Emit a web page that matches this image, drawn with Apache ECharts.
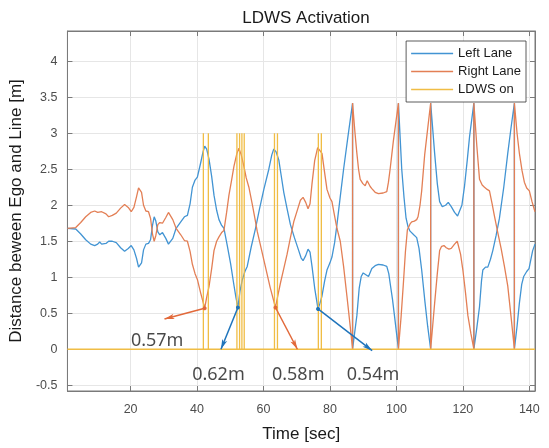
<!DOCTYPE html>
<html>
<head>
<meta charset="utf-8">
<script src="https://cdn.jsdelivr.net/npm/echarts@6/dist/echarts.min.js"></script>
<style>
  html, body { margin: 0; padding: 0; background: #fff; }
  #chart { width: 549px; height: 448px; }
</style>
</head>
<body>
<div id="chart"></div>
<script>
// Left lane distance (blue)
const timeLeft = [1.0, 3.5, 5.0, 6.5, 8.0, 9.2, 10.1, 10.7, 11.3, 11.9, 12.6, 13.4, 14.5, 15.7, 17.0, 18.2, 19.3, 20.2, 21.0, 21.8,
  22.4, 22.8, 23.3, 23.9, 24.6, 25.4, 26.0, 26.6, 27.1, 27.6, 28.2, 28.8, 29.6, 30.6, 31.4, 31.9, 32.7, 33.7, 35.1, 36.2,
  37.1, 37.9, 38.6, 39.4, 40.1, 41.1, 41.8, 42.3, 42.9, 43.6, 44.4, 45.1, 45.9, 46.6, 47.4, 48.1, 49.1, 50.1, 51.0, 51.7,
  52.3, 52.9, 53.6, 54.4, 55.1, 56.3, 57.6, 58.8, 60.1, 61.6, 62.5, 63.1, 63.8, 64.6, 65.3, 66.1, 67.1, 68.1, 69.3, 70.6,
  71.3, 71.9, 72.7, 73.4, 74.0, 74.6, 75.4, 76.4, 77.0, 77.6, 78.4, 79.1, 80.0, 80.6, 81.4, 82.1, 83.1, 84.1, 85.4, 86.8,
  86.8, 88.1, 88.8, 89.4, 90.0, 90.6, 91.6, 92.6, 93.6, 94.6, 96.0, 97.1, 97.7, 98.1, 98.8, 99.4, 100.6, 100.6, 101.6, 102.3,
  102.9, 103.5, 104.1, 105.2, 106.1, 106.8, 107.6, 108.6, 109.4, 110.3, 110.3, 111.5, 112.3, 113.0, 113.8, 114.8, 115.6, 116.5, 117.5, 118.4,
  119.0, 119.7, 120.5, 121.3, 122.0, 123.3, 123.3, 124.2, 125.0, 125.6, 126.0, 126.8, 127.5, 128.3, 129.0, 130.0, 131.0, 132.3, 133.5, 134.5,
  135.5, 135.5, 136.3, 137.0, 137.7, 138.3, 139.2, 139.9, 140.6, 141.0, 141.7];
const leftLane = [1.68, 1.67, 1.60, 1.52, 1.46, 1.44, 1.46, 1.49, 1.46, 1.44, 1.47, 1.50, 1.50, 1.48, 1.41, 1.36, 1.40, 1.44, 1.38, 1.26,
  1.14, 1.12, 1.20, 1.38, 1.46, 1.47, 1.52, 1.72, 1.84, 1.78, 1.63, 1.59, 1.62, 1.54, 1.46, 1.44, 1.54, 1.68, 1.77, 1.84,
  1.86, 2.02, 2.25, 2.35, 2.39, 2.59, 2.74, 2.82, 2.78, 2.64, 2.40, 2.14, 1.93, 1.80, 1.72, 1.68, 1.44, 1.19, 0.92, 0.72,
  0.58, 0.80, 0.96, 1.08, 1.15, 1.42, 1.68, 1.95, 2.22, 2.50, 2.70, 2.78, 2.74, 2.63, 2.42, 2.18, 1.95, 1.73, 1.55, 1.37,
  1.27, 1.23, 1.30, 1.39, 1.35, 1.15, 0.85, 0.56, 0.64, 0.74, 0.95, 1.10, 1.20, 1.28, 1.48, 1.73, 2.12, 2.50, 2.95, 3.42,
  0, 0.47, 0.85, 1.01, 1.06, 1.05, 1.01, 1.12, 1.16, 1.18, 1.17, 1.15, 1.05, 0.92, 0.70, 0.47, 0, 3.42, 2.50, 2.10,
  1.82, 1.70, 1.64, 1.59, 1.55, 1.40, 1.10, 0.65, 0.32, 0, 3.42, 2.72, 2.30, 2.05, 1.98, 2.00, 2.04, 1.98, 1.90, 1.85,
  1.84, 2.00, 2.27, 2.62, 2.95, 3.42, 0, 0.30, 0.59, 0.95, 1.10, 1.14, 1.14, 1.25, 1.37, 1.58, 1.82, 2.25, 2.72, 3.08,
  3.42, 0, 0.32, 0.64, 0.90, 1.01, 1.08, 1.12, 1.28, 1.37, 1.46];

// Right lane distance (orange)
const timeRight = [1.0, 3.5, 5.0, 6.5, 8.0, 9.2, 10.1, 10.7, 11.3, 11.9, 12.6, 13.4, 14.5, 15.7, 17.0, 18.2, 19.3, 20.2, 21.0, 21.8,
  22.4, 22.8, 23.3, 23.9, 24.6, 25.4, 26.0, 26.6, 27.1, 27.6, 28.2, 28.8, 29.6, 30.6, 31.4, 31.9, 32.7, 33.7, 35.1, 36.2,
  37.1, 37.9, 38.6, 39.4, 40.1, 41.1, 41.8, 42.3, 42.9, 43.6, 44.4, 45.1, 45.9, 46.6, 47.4, 48.1, 48.9, 49.6, 50.4, 51.1,
  52.0, 52.6, 53.3, 54.1, 54.8, 55.6, 56.6, 57.4, 58.1, 59.3, 60.6, 62.0, 63.6, 64.3, 65.1, 66.1, 67.1, 68.1, 69.1, 70.3,
  71.1, 71.9, 72.7, 73.4, 74.0, 74.6, 75.4, 76.3, 76.8, 77.6, 78.4, 79.1, 80.0, 80.6, 81.4, 82.1, 83.1, 84.1, 85.1, 86.0,
  86.8, 86.8, 87.5, 88.1, 88.6, 89.1, 89.9, 90.6, 91.2, 91.6, 92.1, 92.6, 93.6, 94.6, 96.0, 97.1, 97.6, 98.1, 98.6, 99.1,
  100.6, 100.6, 101.4, 102.1, 102.7, 103.3, 104.1, 104.6, 105.4, 106.1, 106.5, 107.1, 107.6, 108.5, 109.4, 110.3, 110.3, 110.9, 111.5, 112.3,
  113.0, 113.6, 114.3, 115.0, 115.8, 116.5, 117.5, 118.3, 118.7, 119.3, 120.0, 120.8, 121.5, 122.4, 123.3, 123.3, 124.2, 125.0, 125.8, 126.5,
  127.3, 128.0, 128.8, 129.5, 130.5, 131.5, 132.5, 133.5, 134.5, 135.5, 135.5, 136.3, 137.0, 137.8, 138.5, 139.2, 140.0, 140.8, 141.7];
const rightLane = [1.68, 1.69, 1.76, 1.84, 1.90, 1.92, 1.90, 1.88, 1.91, 1.92, 1.88, 1.84, 1.86, 1.89, 1.96, 2.01, 1.97, 1.91, 1.97, 2.12,
  2.24, 2.25, 2.18, 2.00, 1.92, 1.91, 1.82, 1.60, 1.50, 1.58, 1.73, 1.76, 1.75, 1.83, 1.90, 1.91, 1.80, 1.68, 1.59, 1.51,
  1.50, 1.36, 1.18, 1.05, 0.97, 0.78, 0.66, 0.57, 0.72, 0.87, 1.12, 1.37, 1.50, 1.56, 1.62, 1.65, 1.90, 2.14, 2.35, 2.54,
  2.72, 2.79, 2.70, 2.54, 2.38, 2.25, 2.02, 1.82, 1.64, 1.40, 1.14, 0.86, 0.58, 0.74, 0.92, 1.12, 1.32, 1.55, 1.77, 1.95,
  2.07, 2.11, 2.04, 1.95, 2.02, 2.30, 2.62, 2.80, 2.82, 2.72, 2.45, 2.22, 2.10, 2.05, 1.85, 1.68, 1.50, 1.15, 0.74, 0.36,
  0, 3.42, 3.02, 2.72, 2.50, 2.36, 2.30, 2.27, 2.34, 2.34, 2.26, 2.23, 2.18, 2.16, 2.17, 2.19, 2.32, 2.50, 2.70, 2.90,
  3.42, 0, 0.45, 0.92, 1.35, 1.66, 1.74, 1.77, 1.78, 1.80, 1.84, 2.00, 2.20, 2.70, 3.06, 3.42, 0, 0.32, 0.64, 1.05,
  1.37, 1.43, 1.44, 1.41, 1.39, 1.40, 1.46, 1.50, 1.48, 1.32, 1.10, 0.78, 0.47, 0.22, 0, 3.42, 2.82, 2.36, 2.28, 2.25,
  2.22, 2.20, 2.02, 1.85, 1.62, 1.40, 1.15, 0.88, 0.45, 0, 3.42, 3.00, 2.72, 2.48, 2.32, 2.24, 2.20, 2.05, 1.91];

// LDWS warning pulses (time of each spike) and their plotted level
const ldwsTimes = [41.9, 43.4, 52.0, 52.8, 53.5, 54.2, 63.3, 64.2, 76.5, 77.4];
const ldwsLevel = 3;
const timeStart = 1.0;
const timeEnd = 141.7;

const xTicks = [20, 40, 60, 80, 100, 120, 140];
const yTicks = [-0.5, 0, 0.5, 1, 1.5, 2, 2.5, 3, 3.5, 4];

// annotation arrows (data units): minimum point -> arrow tip, plus the text
const arrowFrom = [[42.3, 0.57], [52.3, 0.58], [63.6, 0.58], [76.4, 0.56]];
const arrowTo = [[30.2, 0.42], [47.2, 0.0], [70.2, 0.0], [92.7, -0.02]];
const labelAt = [[28.0, 0.115], [46.45, -0.355], [70.45, -0.355], [92.95, -0.355]];
const labelText = ['0.57m', '0.62m', '0.58m', '0.54m'];
const arrowSide = ['right', 'left', 'right', 'left'];

const blue = '#4294d3';
const orange = '#e37f55';
const yellow = '#f0bd45';
const arrowColor = { left: '#1f74bb', right: '#e2693a' };
const axisGray = '#7a7a7a';
const font = 'Liberation Sans, Arial, sans-serif';

const pair = (ts, vs) => ts.map((t, i) => [t, vs[i]]);

const ldwsData = [[timeStart, 0]];
ldwsTimes.forEach(t => { ldwsData.push([t, 0], [t, ldwsLevel], [t, 0]); });
ldwsData.push([timeEnd, 0]);

const arrows = arrowFrom.map((p, i) => {
  const c = arrowColor[arrowSide[i]];
  const ls = { color: c, width: 1.5, type: 'solid' };
  return [
    { coord: p, lineStyle: ls, itemStyle: { color: c } },
    { coord: arrowTo[i], lineStyle: ls, itemStyle: { color: c } }
  ];
});

const chart = echarts.init(document.getElementById('chart'));
chart.setOption({
  animation: false,
  title: {
    text: 'LDWS Activation',
    left: 301, top: 5, textAlign: 'center',
    textStyle: { fontFamily: font, fontSize: 17, fontWeight: 'normal', color: '#1a1a1a' }
  },
  legend: {
    data: ['Left Lane', 'Right Lane', 'LDWS on'],
    orient: 'vertical',
    right: 23, top: 41,
    backgroundColor: '#fff',
    borderColor: '#333', borderWidth: 0.8, borderRadius: 0,
    padding: [6, 5, 6, 5],
    icon: 'rect',
    itemGap: 5, itemWidth: 42, itemHeight: 1.4,
    textStyle: { fontFamily: font, fontSize: 13, color: '#1a1a1a', lineHeight: 13 }
  },
  grid: { left: 66, right: 14, top: 31, bottom: 48, show: true, borderColor: axisGray, borderWidth: 1 },
  xAxis: [{
    type: 'value', min: timeStart, max: timeEnd,
    name: 'Time [sec]', nameLocation: 'middle', nameGap: 35,
    nameTextStyle: { fontFamily: font, fontSize: 17, color: '#1a1a1a' },
    axisLine: { show: true, onZero: false, lineStyle: { color: axisGray } },
    axisTick: { show: true, inside: true, length: 5, customValues: xTicks, lineStyle: { color: axisGray } },
    axisLabel: { customValues: xTicks, margin: 12, fontFamily: font, fontSize: 12.5, color: '#4d4d4d' },
    splitLine: { show: true, lineStyle: { color: '#e6e6e6' } }
  }, {
    type: 'value', position: 'top', min: timeStart, max: timeEnd,
    axisLine: { show: true, onZero: false, lineStyle: { color: axisGray } },
    axisTick: { show: true, inside: true, length: 5, customValues: xTicks, lineStyle: { color: axisGray } },
    axisLabel: { show: false }, splitLine: { show: false }
  }],
  yAxis: [{
    type: 'value', min: -0.58, max: 4.42,
    name: 'Distance beween Ego and Line [m]', nameLocation: 'middle', nameGap: 31,
    nameTextStyle: { fontFamily: font, fontSize: 17, color: '#1a1a1a' },
    axisLine: { show: true, onZero: false, lineStyle: { color: axisGray } },
    axisTick: { show: true, inside: true, length: 5, customValues: yTicks, lineStyle: { color: axisGray } },
    axisLabel: { customValues: yTicks, margin: 10, fontFamily: font, fontSize: 12.5, color: '#4d4d4d' },
    splitLine: { show: true, lineStyle: { color: '#e6e6e6' } }
  }, {
    type: 'value', position: 'right', min: -0.58, max: 4.42,
    axisLine: { show: true, onZero: false, lineStyle: { color: axisGray } },
    axisTick: { show: true, inside: true, length: 5, customValues: yTicks, lineStyle: { color: axisGray } },
    axisLabel: { show: false }, splitLine: { show: false }
  }],
  series: [
    {
      name: 'Left Lane', type: 'line', data: pair(timeLeft, leftLane),
      symbol: 'none', lineStyle: { width: 1.3, color: blue }, itemStyle: { color: blue }, z: 2
    },
    {
      name: 'Right Lane', type: 'line', data: pair(timeRight, rightLane),
      symbol: 'none', lineStyle: { width: 1.3, color: orange }, itemStyle: { color: orange }, z: 3
    },
    {
      name: 'LDWS on', type: 'line', data: ldwsData,
      symbol: 'none', lineStyle: { width: 1.3, color: yellow }, itemStyle: { color: yellow }, z: 4
    },
    {
      type: 'scatter', data: labelAt, symbolSize: 0, silent: true, z: 6,
      label: {
        show: true, position: 'inside',
        formatter: p => labelText[p.dataIndex],
        fontFamily: 'Noto Sans, sans-serif', fontSize: 18, color: '#1a1a1a'
      },
      markLine: {
        silent: true, animation: false,
        symbol: ['circle', 'arrow'], symbolSize: [4, 10],
        label: { show: false },
        data: arrows
      }
    }
  ]
});
</script>
</body>
</html>
